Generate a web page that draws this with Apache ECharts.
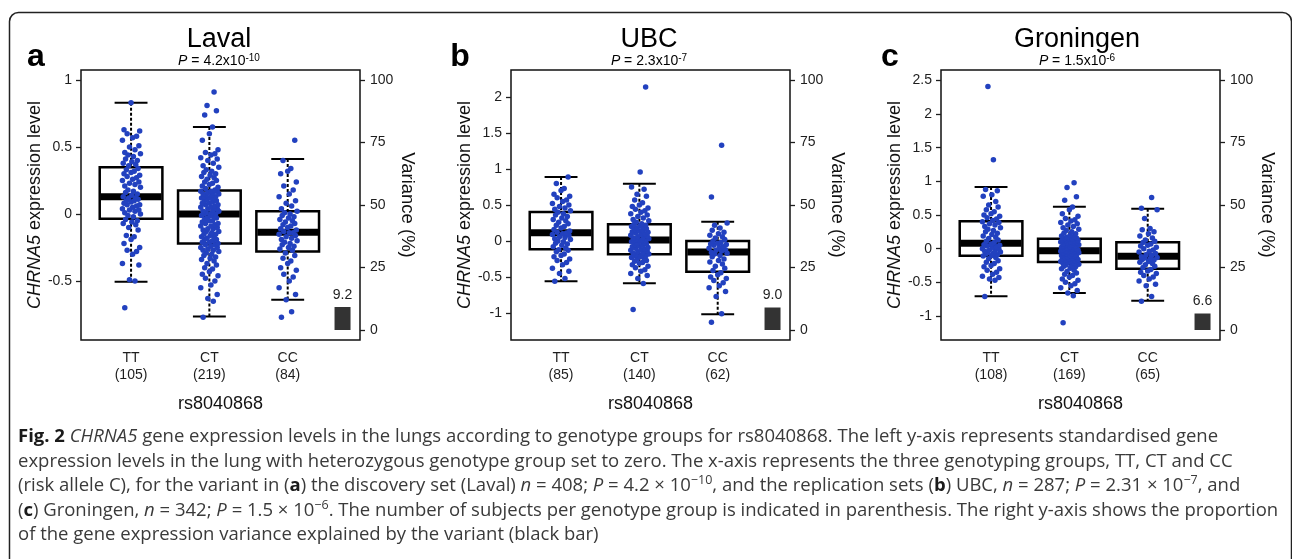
<!DOCTYPE html>
<html><head><meta charset="utf-8">
<script src="https://cdn.jsdelivr.net/npm/echarts@6/dist/echarts.min.js"></script>
<style>html,body{margin:0;padding:0;background:#fff}#c{width:1292px;height:559px}</style>
</head><body><div id="c"></div>
<script>
// ---------- data ----------
const genotypes = ['TT', 'CT', 'CC'];
const panelNames = ['Laval', 'UBC', 'Groningen'];
const panelLetters = ['a', 'b', 'c'];
const pMantissa = ['4.2', '2.3', '1.5'];
const pExponent = ['-10', '-7', '-6'];
const lavalCounts = [105, 219, 84];
const ubcCounts = [85, 140, 62];
const groningenCounts = [108, 169, 65];
const varianceExplained = [9.2, 9.0, 6.6];
const lavalTicks = [-0.5, 0, 0.5, 1];
const ubcTicks = [-1, -0.5, 0, 0.5, 1, 1.5, 2];
const groningenTicks = [-1, -0.5, 0, 0.5, 1, 1.5, 2, 2.5];
const varianceTicks = [0, 25, 50, 75, 100];
// box stats per genotype: [low whisker, Q1, median, Q3, high whisker]
const lavalBoxes = [[-0.505, -0.035, 0.13, 0.35, 0.83], [-0.765, -0.22, 0.0, 0.175, 0.65], [-0.64, -0.28, -0.135, 0.02, 0.41]];
const ubcBoxes = [[-0.56, -0.116, 0.116, 0.403, 0.889], [-0.588, -0.185, 0.014, 0.231, 0.796], [-1.018, -0.426, -0.153, 0.0, 0.269]];
const groningenBoxes = [[-0.708, -0.104, 0.079, 0.406, 0.916], [-0.658, -0.198, -0.03, 0.149, 0.624], [-0.772, -0.297, -0.114, 0.094, 0.594]];
// individual expression values
const lavalTT = [-0.70,-0.50,-0.49,-0.38,-0.37,-0.30,-0.28,-0.27,-0.25,-0.22,-0.19,-0.17,-0.16,-0.12,-0.10,-0.08,-0.07,-0.06,-0.05,-0.04,
  -0.02,-0.01,0.00,0.01,0.02,0.03,0.03,0.04,0.05,0.06,0.07,0.07,0.08,0.09,0.10,0.10,0.11,0.12,0.12,0.13,
  0.14,0.15,0.16,0.17,0.18,0.20,0.21,0.22,0.23,0.24,0.25,0.26,0.27,0.28,0.29,0.30,0.31,0.32,0.33,0.34,
  0.36,0.37,0.38,0.39,0.40,0.41,0.43,0.44,0.45,0.46,0.48,0.50,0.51,0.55,0.57,0.58,0.60,0.62,0.63,0.83];
const lavalCT = [-0.77,-0.65,-0.63,-0.60,-0.55,-0.53,-0.50,-0.48,-0.46,-0.45,-0.43,-0.41,-0.40,-0.38,-0.37,-0.35,-0.34,-0.33,-0.32,-0.31,-0.30,-0.29,-0.28,-0.27,-0.27,-0.26,-0.25,-0.25,-0.24,-0.23,-0.23,-0.22,
  -0.21,-0.21,-0.20,-0.19,-0.19,-0.18,-0.17,-0.17,-0.16,-0.15,-0.15,-0.14,-0.13,-0.13,-0.12,-0.11,-0.11,-0.10,-0.09,-0.09,-0.08,-0.07,-0.07,-0.06,-0.05,-0.05,-0.04,-0.03,-0.03,-0.02,-0.01,-0.01,0.00,
  0.00,0.01,0.01,0.02,0.02,0.03,0.04,0.04,0.05,0.05,0.06,0.07,0.07,0.08,0.08,0.09,0.10,0.10,0.11,0.11,0.12,0.12,0.13,0.13,0.14,0.14,0.15,0.15,0.16,0.16,0.17,0.17,0.17,
  0.18,0.19,0.20,0.21,0.22,0.23,0.24,0.25,0.26,0.27,0.28,0.29,0.30,0.31,0.32,0.33,0.35,0.36,0.38,0.40,0.41,0.42,0.44,0.45,0.46,0.48,0.55,0.60,0.65,0.74,0.77,0.81,0.91];
const lavalCC = [-0.77,-0.73,-0.64,-0.60,-0.55,-0.50,-0.47,-0.45,-0.42,-0.40,-0.37,-0.35,-0.33,-0.31,-0.29,
  -0.27,-0.26,-0.25,-0.24,-0.23,-0.22,-0.21,-0.20,-0.19,-0.18,-0.17,-0.16,-0.15,-0.14,-0.14,
  -0.13,-0.12,-0.11,-0.10,-0.09,-0.08,-0.07,-0.06,-0.05,-0.04,-0.03,-0.02,-0.01,0.00,0.01,
  0.02,0.04,0.06,0.08,0.10,0.13,0.15,0.18,0.21,0.24,0.30,0.32,0.34,0.40,0.55];
const ubcTT = [-0.56,-0.52,-0.45,-0.42,-0.38,-0.33,-0.30,-0.27,-0.25,-0.22,-0.20,-0.18,-0.15,-0.13,-0.12,
  -0.10,-0.08,-0.06,-0.04,-0.03,-0.01,0.00,0.02,0.03,0.05,0.06,0.08,0.09,0.10,0.11,
  0.12,0.14,0.16,0.18,0.20,0.22,0.24,0.26,0.28,0.30,0.32,0.34,0.36,0.38,0.40,
  0.42,0.44,0.46,0.48,0.50,0.52,0.55,0.57,0.60,0.62,0.65,0.70,0.73,0.80,0.89];
const ubcCT = [-0.95,-0.59,-0.52,-0.48,-0.45,-0.42,-0.40,-0.37,-0.35,-0.33,-0.31,-0.30,-0.28,-0.27,-0.25,-0.24,-0.23,-0.22,-0.21,-0.20,-0.19,-0.19,
  -0.18,-0.17,-0.16,-0.15,-0.14,-0.13,-0.12,-0.11,-0.10,-0.09,-0.08,-0.07,-0.06,-0.05,-0.04,-0.03,-0.02,-0.01,0.00,0.00,0.01,0.01,
  0.02,0.03,0.04,0.05,0.06,0.07,0.08,0.09,0.10,0.11,0.12,0.13,0.14,0.15,0.16,0.17,0.18,0.19,0.20,0.21,0.22,0.23,
  0.24,0.26,0.28,0.30,0.32,0.34,0.36,0.38,0.40,0.42,0.44,0.46,0.48,0.50,0.53,0.57,0.62,0.65,0.72,0.75,0.96,2.14];
const ubcCC = [-1.13,-1.01,-0.77,-0.70,-0.65,-0.62,-0.58,-0.55,-0.52,-0.50,-0.47,-0.44,
  -0.41,-0.38,-0.35,-0.32,-0.29,-0.27,-0.25,-0.22,-0.20,-0.18,-0.17,-0.16,
  -0.14,-0.13,-0.12,-0.10,-0.09,-0.08,-0.06,-0.05,-0.04,-0.03,-0.02,0.00,
  0.02,0.04,0.06,0.08,0.10,0.12,0.15,0.18,0.22,0.25,0.61,1.33];
const groningenTT = [-0.71,-0.47,-0.45,-0.43,-0.41,-0.38,-0.35,-0.32,-0.30,-0.27,-0.25,-0.22,-0.20,-0.18,-0.15,-0.13,-0.11,
  -0.10,-0.09,-0.08,-0.07,-0.06,-0.05,-0.04,-0.03,-0.02,-0.01,0.00,0.02,0.03,0.04,0.05,0.06,0.07,
  0.09,0.11,0.13,0.15,0.17,0.19,0.21,0.23,0.25,0.27,0.29,0.31,0.33,0.35,0.37,0.39,0.40,
  0.42,0.44,0.46,0.48,0.50,0.52,0.55,0.58,0.62,0.65,0.70,0.78,0.80,0.86,0.88,1.32,2.41];
const groningenCT = [-1.10,-0.70,-0.66,-0.62,-0.58,-0.55,-0.52,-0.50,-0.47,-0.45,-0.42,-0.40,-0.38,-0.36,-0.34,-0.32,-0.30,-0.29,-0.27,-0.26,-0.25,-0.24,-0.23,-0.22,-0.21,-0.20,-0.20,
  -0.19,-0.18,-0.18,-0.17,-0.16,-0.15,-0.15,-0.14,-0.13,-0.12,-0.12,-0.11,-0.10,-0.10,-0.09,-0.08,-0.08,-0.07,-0.06,-0.06,-0.05,-0.05,-0.04,-0.04,-0.03,-0.03,-0.03,
  -0.02,-0.02,-0.01,-0.01,0.00,0.00,0.01,0.02,0.02,0.03,0.04,0.04,0.05,0.06,0.06,0.07,0.08,0.08,0.09,0.10,0.10,0.11,0.12,0.12,0.13,0.14,0.14,
  0.15,0.16,0.17,0.18,0.19,0.20,0.22,0.23,0.25,0.27,0.29,0.31,0.33,0.35,0.37,0.39,0.41,0.43,0.45,0.48,0.52,0.58,0.62,0.72,0.77,0.91,0.98];
const groningenCC = [-0.78,-0.71,-0.55,-0.53,-0.48,-0.45,-0.42,-0.40,-0.37,-0.35,-0.33,-0.31,
  -0.28,-0.26,-0.24,-0.22,-0.20,-0.19,-0.17,-0.16,-0.15,-0.14,-0.13,-0.12,
  -0.10,-0.09,-0.07,-0.05,-0.04,-0.02,0.00,0.02,0.04,0.05,0.07,0.09,
  0.11,0.13,0.16,0.19,0.22,0.25,0.28,0.30,0.45,0.58,0.60,0.76];
const captionLines = [
  '{b|Fig. 2} {i|CHRNA5} gene expression levels in the lungs according to genotype groups for rs8040868. The left y-axis represents standardised gene',
  'expression levels in the lung with heterozygous genotype group set to zero. The x-axis represents the three genotyping groups, TT, CT and CC',
  '(risk allele C), for the variant in ({b|a}) the discovery set (Laval) {i|n} = 408; {i|P} = 4.2 × 10{s|−10}, and the replication sets ({b|b}) UBC, {i|n} = 287; {i|P} = 2.31 × 10{s|−7}, and',
  '({b|c}) Groningen, {i|n} = 342; {i|P} = 1.5 × 10{s|−6}. The number of subjects per genotype group is indicated in parenthesis. The right y-axis shows the proportion',
  'of the gene expression variance explained by the variant (black bar)'
];

// ---------- layout / style ----------
const panels = [
  { counts: lavalCounts, ticks: lavalTicks, range: [-0.94, 1.075], boxes: lavalBoxes, pts: [lavalTT, lavalCT, lavalCC] },
  { counts: ubcCounts, ticks: ubcTicks, range: [-1.375, 2.375], boxes: ubcBoxes, pts: [ubcTT, ubcCT, ubcCC] },
  { counts: groningenCounts, ticks: groningenTicks, range: [-1.357, 2.655], boxes: groningenBoxes, pts: [groningenTT, groningenCT, groningenCC] }
];
const gridLefts = [81, 511, 941];
const panelCenters = [219, 649, 1077];
const letterX = [36, 460, 890];
const jitter = [-0.08, 0.05, -0.02, 0.10, -0.11, 0.02, 0.07, -0.05, 0.11, -0.09, 0.00, 0.04, -0.06, 0.09, -0.03, 0.06, -0.10, 0.01, 0.08, -0.07, 0.03, -0.04, 0.12];
const FONT = '"Liberation Sans", Arial, sans-serif';
const CAPFONT = '"Open Sans", sans-serif';
const INK = '#1e1e1e';
const DOT = '#2241bf';

function renderBox(params, api) {
  const x = api.value(0), lo = api.value(1), q1 = api.value(2), med = api.value(3), q3 = api.value(4), hi = api.value(5);
  const bw = 0.4, cw = 0.21;
  const c = (a, b) => api.coord([a, b]);
  const pHi = c(x, hi), pQ3 = c(x, q3), pQ1 = c(x, q1), pLo = c(x, lo);
  const tl = c(x - bw, q3), br = c(x + bw, q1);
  const mL = c(x - bw, med), mR = c(x + bw, med);
  const capL = c(x - cw, hi)[0], capR = c(x + cw, hi)[0];
  const dash = { stroke: '#000', lineWidth: 2, lineDash: [3, 2] };
  const solid = { stroke: '#000', lineWidth: 2 };
  return { type: 'group', children: [
    { type: 'line', shape: { x1: pHi[0], y1: pHi[1], x2: pQ3[0], y2: pQ3[1] }, style: dash },
    { type: 'line', shape: { x1: pQ1[0], y1: pQ1[1], x2: pLo[0], y2: pLo[1] }, style: dash },
    { type: 'line', shape: { x1: capL, y1: pHi[1], x2: capR, y2: pHi[1] }, style: solid },
    { type: 'line', shape: { x1: capL, y1: pLo[1], x2: capR, y2: pLo[1] }, style: solid },
    { type: 'rect', shape: { x: tl[0], y: tl[1], width: br[0] - tl[0], height: br[1] - tl[1] }, style: { fill: '#fff', stroke: '#000', lineWidth: 2.5 } },
    { type: 'line', shape: { x1: mL[0] + 1, y1: mL[1], x2: mR[0] - 1, y2: mR[1] }, style: { stroke: '#000', lineWidth: 7 } }
  ] };
}

const grid = [], xAxis = [], yAxis = [], series = [], graphic = [];
panels.forEach((p, i) => {
  grid.push({ left: gridLefts[i], top: 70, width: 279, height: 270, show: true, borderColor: '#111', borderWidth: 1.5, backgroundColor: 'transparent' });
  xAxis.push({
    gridIndex: i, type: 'value', min: 0.361, max: 3.923,
    axisLine: { show: false }, splitLine: { show: false },
    axisTick: { show: true, length: 5, customValues: [1, 2, 3], lineStyle: { color: INK, width: 1.3 } },
    axisLabel: { customValues: [1, 2, 3], formatter: v => genotypes[Math.round(v) - 1] + '\n(' + p.counts[Math.round(v) - 1] + ')', fontSize: 14, lineHeight: 17, color: INK, margin: 10, fontFamily: FONT },
    name: 'rs8040868', nameLocation: 'middle', nameGap: 55, nameTextStyle: { fontSize: 18, color: '#111', fontFamily: FONT }
  });
  yAxis.push({
    gridIndex: i, type: 'value', position: 'left', min: p.range[0], max: p.range[1],
    axisLine: { show: false }, splitLine: { show: false },
    axisTick: { show: true, length: 5, customValues: p.ticks, lineStyle: { color: INK, width: 1.3 } },
    axisLabel: { customValues: p.ticks, formatter: v => String(v), fontSize: 14, color: INK, margin: 9, fontFamily: FONT },
    name: '{i|CHRNA5} expression level', nameLocation: 'middle', nameGap: 36, nameRotate: 90,
    nameTextStyle: { fontSize: 18, color: '#111', fontFamily: FONT, rich: { i: { fontSize: 18, fontStyle: 'italic', color: '#111', fontFamily: FONT } } }
  });
  yAxis.push({
    gridIndex: i, type: 'value', position: 'right', min: -4, max: 104,
    axisLine: { show: false }, splitLine: { show: false },
    axisTick: { show: true, length: 5, customValues: varianceTicks, lineStyle: { color: INK, width: 1.3 } },
    axisLabel: { customValues: varianceTicks, fontSize: 14, color: INK, margin: 10, fontFamily: FONT },
    name: 'Variance (%)', nameLocation: 'middle', nameGap: 38, nameRotate: -90,
    nameTextStyle: { fontSize: 18.5, color: '#111', fontFamily: FONT }
  });
  series.push({
    type: 'custom', xAxisIndex: i, yAxisIndex: 2 * i, z: 2, renderItem: renderBox, silent: true,
    data: p.boxes.map((b, k) => [k + 1].concat(b))
  });
  const pts = [];
  p.pts.forEach((arr, g) => arr.forEach((v, k) => pts.push([g + 1 + jitter[k % jitter.length], v])));
  series.push({ type: 'scatter', xAxisIndex: i, yAxisIndex: 2 * i, z: 3, symbolSize: 5.5, itemStyle: { color: DOT, opacity: 1 }, data: pts, silent: true });
  series.push({
    type: 'bar', xAxisIndex: i, yAxisIndex: 2 * i + 1, z: 2, barWidth: 16, itemStyle: { color: '#333' },
    data: [[3.70, varianceExplained[i]]],
    label: { show: true, position: 'top', distance: 5, formatter: o => o.value[1].toFixed(1), fontSize: 14, color: INK, fontFamily: FONT }
  });
  graphic.push({ type: 'text', style: { text: panelNames[i], x: panelCenters[i], y: 39.5, textAlign: 'center', textVerticalAlign: 'middle', font: '27px ' + FONT, fill: '#000' } });
  graphic.push({ type: 'text', style: { text: panelLetters[i], x: letterX[i], y: 57, textAlign: 'center', textVerticalAlign: 'middle', font: 'bold 32px ' + FONT, fill: '#000' } });
  graphic.push({ type: 'text', style: {
    text: '{i|P} = ' + pMantissa[i] + 'x10{s|' + pExponent[i] + '}', x: panelCenters[i], y: 61, textAlign: 'center', textVerticalAlign: 'middle',
    font: '14px ' + FONT, fill: '#000', lineHeight: 15,
    rich: { i: { fontStyle: 'italic', fontSize: 14, fontFamily: FONT, lineHeight: 15 }, s: { fontSize: 10, fontFamily: FONT, lineHeight: 9, verticalAlign: 'top' } }
  } });
});

// outer frame and caption
graphic.push({ type: 'rect', shape: { x: 9.5, y: 12.5, width: 1282, height: 640, r: 9 }, style: { fill: 'none', stroke: '#222', lineWidth: 1.5 }, silent: true });
const capY = [436.5, 461.5, 486, 510.5, 535];
captionLines.forEach((t, k) => {
  graphic.push({ type: 'text', style: {
    text: t, x: 18, y: capY[k], textAlign: 'left', textVerticalAlign: 'middle',
    font: '18.5px ' + CAPFONT, fill: '#3a3a3a', lineHeight: 24,
    rich: {
      b: { fontWeight: 'bold', fontFamily: CAPFONT, fontSize: 18.5, fill: '#1a1a1a', color: '#1a1a1a', lineHeight: 24 },
      i: { fontStyle: 'italic', fontFamily: CAPFONT, fontSize: 18.5, lineHeight: 24 },
      s: { fontFamily: CAPFONT, fontSize: 12.5, lineHeight: 13, verticalAlign: 'top' }
    }
  } });
});

const chart = echarts.init(document.getElementById('c'), null, { renderer: 'canvas' });
chart.setOption({ animation: false, backgroundColor: '#fff', grid, xAxis, yAxis, series, graphic });
</script></body></html>
